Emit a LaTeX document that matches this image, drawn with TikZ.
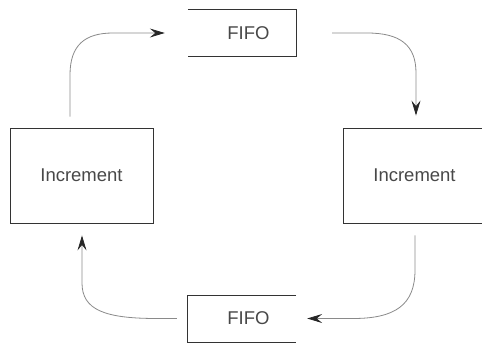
\documentclass[tikz,border=0pt]{standalone}
\usepackage{fontspec}
\setmainfont{Liberation Sans}
\usetikzlibrary{arrows.meta,calc}
\definecolor{boxline}{HTML}{333333}
\definecolor{txt}{HTML}{484848}
\definecolor{conn}{HTML}{8A8A8A}
\tikzset{
  box/.style={rectangle, draw=boxline, line width=0.9pt, inner sep=0pt,
    text=txt, font=\fontsize{18.5}{20}\selectfont},
  fifobox/.style={rectangle, inner sep=0pt, text=txt, font=\fontsize{18.5}{20}\selectfont,
    minimum width=108pt, minimum height=47pt},
  border/.style={draw=boxline, line width=0.9pt},
  conn/.style={draw=conn, line width=0.8pt,
    -{Stealth[length=15pt,width=9pt,inset=5.5pt,color=black!85]}}
}
\begin{document}
\begin{tikzpicture}[x=1pt,y=-1pt]
\useasboundingbox (0,0) rectangle (482,343);
\clip (0,0) rectangle (482,343);
\node[box, minimum width=143pt, minimum height=95pt] (incL) at (81.5,175.5) {Increment};
\node[box, minimum width=143pt, minimum height=95pt] (incR) at (414.5,175.5) {Increment};
\node[fifobox] (fifoT) at (242,33) {\hspace*{13pt}FIFO};
\node[fifobox, minimum height=46.5pt] (fifoB) at (242,318.5) {\hspace*{13pt}FIFO};
\draw[border] (fifoT.north west) -- (fifoT.north east) -- (fifoT.south east) -- (fifoT.south west);
\draw[border] (fifoB.north east) -- (fifoB.north west) -- (fifoB.south west) -- (fifoB.south east);
\draw[conn] ([xshift=-11.5pt,yshift=11pt]incL.north) -- (70,75) .. controls (70,45) and (85,33) .. (113,33) -- ([xshift=-23pt]fifoT.west);
\draw[conn] ([xshift=36pt]fifoT.east) -- (367,33) .. controls (400,33) and (416,45) .. (416,73) -- ([xshift=1.5pt,yshift=12pt]incR.north);
\draw[conn] ([xshift=0.5pt,yshift=-12pt]incR.south) -- (415,270) .. controls (415,305) and (395,318.5) .. (353,318.5) -- ([xshift=11pt]fifoB.east);
\draw[conn] ([xshift=-11pt]fifoB.west) -- (157,318.5) .. controls (105,318.5) and (82,310) .. (82,283) -- ([xshift=0.5pt,yshift=-12pt]incL.south);
\end{tikzpicture}
\end{document}
